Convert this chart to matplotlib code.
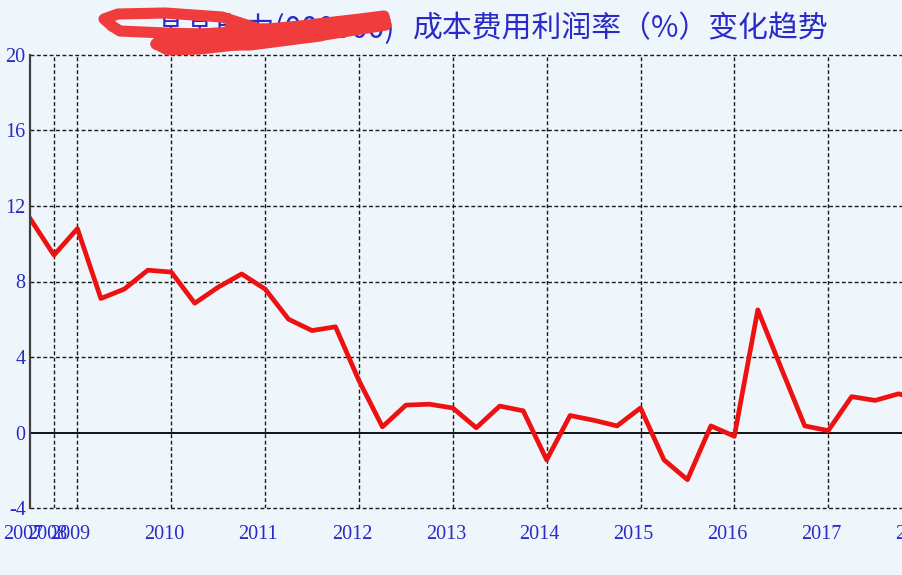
import numpy as np
import matplotlib
matplotlib.use("Agg")
import matplotlib.pyplot as plt
from matplotlib.lines import Line2D
from matplotlib.transforms import ScaledTranslation

# year labels and the point index where each year starts
years = ['2007', '2008', '2009', '2010', '2011', '2012', '2013',
         '2014', '2015', '2016', '2017', '2018']
year_pos = [0, 1, 2, 6, 10, 14, 18, 22, 26, 30, 34, 38]

# cost-expense profit margin (%)
margin = [11.3, 9.4, 10.8, 7.1, 7.6, 8.6, 8.5, 6.85, 7.7, 8.4,
          7.6, 6.0, 5.4, 5.6, 2.75, 0.3, 1.45, 1.5, 1.3, 0.25,
          1.4, 1.15, -1.45, 0.9, 0.65, 0.35, 1.3, -1.45, -2.5, 0.35,
          -0.2, 6.5, 3.4, 0.35, 0.1, 1.9, 1.7, 2.05, 1.7]
y_ticks = [-4, 0, 4, 8, 12, 16, 20]

bg = '#eef6fc'
blue = '#2a2ac8'

fig = plt.figure(figsize=(9.03, 5.75), dpi=100, facecolor=bg)
# plot area runs past the right edge like the original screenshot
ax = fig.add_axes([30.5 / 903, 67 / 575, 915 / 903, 453 / 575])
ax.set_facecolor(bg)

ax.set_xlim(0, 39)
ax.set_ylim(-4, 20)

# dashed grid
dash = (0, (2.8, 1.8))
for y in y_ticks:
    if y == 0:
        ax.axhline(y, color='black', lw=1.3, zorder=2)
    else:
        ax.axhline(y, color='#1a1a1a', lw=1.0, ls=dash, clip_on=False, zorder=1)
for x in year_pos[1:]:
    ax.axvline(x, color='#1a1a1a', lw=1.0, ls=dash, zorder=1)

ax.plot(range(len(margin)), margin, color='#ee1111', lw=3.4, zorder=3,
        solid_joinstyle='round')

for s in ['top', 'right', 'bottom']:
    ax.spines[s].set_visible(False)
ax.spines['left'].set_color('#404040')
ax.spines['left'].set_linewidth(1.6)
ax.spines['left'].set_zorder(4)

ax.set_yticks(y_ticks)
ax.set_yticklabels([str(v) for v in y_ticks])
ax.set_xticks(year_pos)
ax.set_xticklabels(years)
ax.tick_params(axis='y', length=0, pad=3.5, labelsize=14.5, labelcolor=blue)
ax.tick_params(axis='x', length=0, pad=12, labelsize=14.5, labelcolor=blue)
for lab in ax.get_xticklabels() + ax.get_yticklabels():
    lab.set_fontfamily('Liberation Serif')
shift = ScaledTranslation(-7 / 100, 0, fig.dpi_scale_trans)
for lab in ax.get_xticklabels():
    lab.set_transform(lab.get_transform() + shift)

# title (company part is redacted in the original)
cjk = ['Noto Sans CJK SC', 'DejaVu Sans']
fig.text(395 / 903, 1 - 29 / 575, '某某电力(000000)', ha='right', va='center',
         fontsize=21.5, color=blue, family=cjk)
fig.text(413 / 903, 1 - 29 / 575, '成本费用利润率（%）变化趋势', ha='left',
         va='center', fontsize=21.5, color=blue, family=cjk)

# red scribble over the company name
def px(points):
    xs = [p[0] / 903 for p in points]
    ys = [1 - p[1] / 575 for p in points]
    return xs, ys

scribbles = [
    [(112, 26), (104, 19), (118, 14), (165, 13), (222, 17), (262, 30),
     (238, 35), (165, 33), (120, 31), (112, 26)],
    [(156, 44), (164, 36), (235, 32), (300, 26), (360, 19), (384, 16),
     (386, 25), (330, 34), (262, 42), (200, 49), (168, 50), (156, 44)],
    [(170, 40), (240, 40), (300, 35), (370, 24)],
    [(175, 45), (250, 45), (320, 36), (378, 21)],
    [(230, 28), (300, 30), (370, 21)],
    [(200, 37), (262, 36), (330, 28)],
]
for pts in scribbles:
    xs, ys = px(pts)
    fig.add_artist(Line2D(xs, ys, transform=fig.transFigure, color='#f03c3c',
                          lw=8, solid_capstyle='round', solid_joinstyle='round',
                          zorder=10))

fig.savefig('out.png', dpi=100, facecolor=bg)
